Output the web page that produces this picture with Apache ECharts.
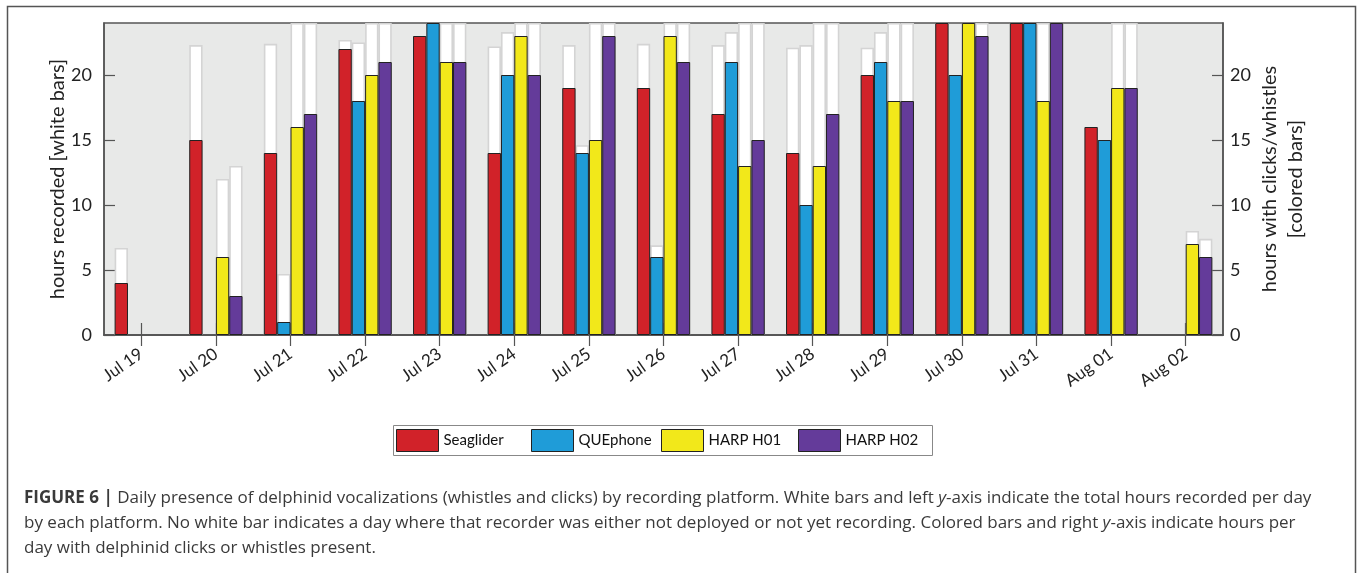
<!DOCTYPE html>
<html>
<head>
<meta charset="utf-8">
<script src="https://cdn.jsdelivr.net/npm/echarts@6/dist/echarts.min.js"></script>
<style>
html,body{margin:0;padding:0;background:#fff;}
#chart{width:1357px;height:573px;}
</style>
</head>
<body>
<div id="chart"></div>
<script>
// ---- data ----
const days = ['Jul 19','Jul 20','Jul 21','Jul 22','Jul 23','Jul 24','Jul 25','Jul 26','Jul 27','Jul 28','Jul 29','Jul 30','Jul 31','Aug 01','Aug 02'];
const platforms = ['Seaglider','QUEphone','HARP H01','HARP H02'];
// total hours recorded per day (white bars, left axis)
const recSeaglider = [6.7, 22.3, 22.4, 22.7, 23, 22.2, 22.3, 22.4, 22.3, 22.1, 22.1, 24, 24, 16, null];
const recQUEphone  = [null, null, 4.7, 22.5, 24, 23.3, 14.6, 6.9, 23.3, 22.3, 23.3, 20, 24, 15, null];
const recHARPH01   = [null, 12, 24, 24, 24, 24, 24, 24, 24, 24, 24, 24, 24, 24, 8];
const recHARPH02   = [null, 13, 24, 24, 24, 24, 24, 24, 24, 24, 24, 24, 24, 24, 7.4];
// hours with clicks/whistles (colored bars, right axis)
const detSeaglider = [4, 15, 14, 22, 23, 14, 19, 19, 17, 14, 20, 24, 24, 16, null];
const detQUEphone  = [null, null, 1, 18, 24, 20, 14, 6, 21, 10, 21, 20, 24, 15, null];
const detHARPH01   = [null, 6, 16, 20, 21, 23, 15, 23, 13, 13, 18, 24, 18, 19, 7];
const detHARPH02   = [null, 3, 17, 21, 21, 20, 23, 21, 15, 17, 18, 23, 24, 19, 6];
const yTicks = [0, 5, 10, 15, 20];

const recorded = [recSeaglider, recQUEphone, recHARPH01, recHARPH02];
const detected = [detSeaglider, detQUEphone, detHARPH01, detHARPH02];
const colors = ['#d12229', '#1f9cd8', '#f2e81a', '#643b9a'];

const chartFont = 'Lato';
const axisCol = '#555';
const BW = 13.33;

const chart = echarts.init(document.getElementById('chart'), null, {renderer: 'canvas'});

const series = [];
platforms.forEach((p, i) => {
  series.push({
    name: 'rec ' + p, type: 'bar', xAxisIndex: 0, yAxisIndex: 0,
    data: recorded[i], barWidth: BW, barGap: '0%', z: 2,
    itemStyle: {color: '#ffffff', borderColor: '#d4d4d4', borderWidth: 1.6},
    emphasis: {disabled: true}, silent: true
  });
});
platforms.forEach((p, i) => {
  series.push({
    name: p, type: 'bar', xAxisIndex: 1, yAxisIndex: 1,
    data: detected[i], barWidth: BW, barGap: '0%', z: 3,
    itemStyle: {color: colors[i], borderColor: '#222', borderWidth: 1},
    emphasis: {disabled: true}
  });
});

const yCommon = {
  type: 'value', min: 0, max: 24, interval: 5,
  splitLine: {show: false},
  axisLine: {show: true, lineStyle: {color: axisCol, width: 1.5}},
  axisTick: {show: true, inside: true, length: 11, lineStyle: {color: axisCol, width: 1.2}, customValues: yTicks},
  axisLabel: {color: '#222', fontFamily: chartFont, fontSize: 18, customValues: yTicks,
              formatter: v => (v % 5 === 0 ? String(v) : '')},
  nameLocation: 'middle',
  nameMoveOverlap: false,
  nameTextStyle: {color: '#222', fontFamily: chartFont, fontSize: 20, lineHeight: 26}
};

// one legend per item so each item sits where the reference puts it
const legendLefts = [396, 531, 661, 798];
const legends = platforms.map((p, i) => ({
  data: [p], left: legendLefts[i], top: 429, padding: 0,
  itemWidth: 42, itemHeight: 22, icon: 'rect', selectedMode: false,
  textStyle: {color: '#111', fontFamily: chartFont, fontSize: 15},
  itemStyle: {borderColor: '#222', borderWidth: 1}
}));

const caption1 = '{b|FIGURE 6 |} Daily presence of delphinid vocalizations (whistles and clicks) by recording platform. White bars and left {i|y}-axis indicate the total hours recorded per day';
const caption2 = 'by each platform. No white bar indicates a day where that recorder was either not deployed or not yet recording. Colored bars and right {i|y}-axis indicate hours per';
const caption3 = 'day with delphinid clicks or whistles present.';
const capFont = 'Open Sans';
const capSize = 17;
const capStyle = (t, y) => ({
  type: 'text', left: 24, top: y, silent: true,
  style: {
    text: t, fill: '#3a3a3a', fontFamily: capFont, fontSize: capSize,
    rich: {
      b: {fontWeight: 'bold', fontFamily: capFont, fontSize: capSize, fill: '#3a3a3a'},
      i: {fontStyle: 'italic', fontFamily: capFont, fontSize: capSize, fill: '#3a3a3a'}
    }
  }
});

chart.setOption({
  animation: false,
  grid: {left: 104, right: 134, top: 23, bottom: 238, show: true,
         backgroundColor: '#e8e9e8', borderColor: axisCol, borderWidth: 1.5},
  legend: legends,
  xAxis: [
    {type: 'category', data: days, position: 'bottom', boundaryGap: true,
     axisLine: {show: true, lineStyle: {color: axisCol, width: 1.5}},
     axisTick: {show: true, inside: true, alignWithLabel: true, length: 12, lineStyle: {color: axisCol, width: 1.2}},
     axisLabel: {rotate: 35, margin: 17, color: '#222', fontFamily: chartFont, fontSize: 17, interval: 0},
     splitLine: {show: false}},
    {type: 'category', data: days, position: 'top', boundaryGap: true,
     axisLine: {show: true, lineStyle: {color: axisCol, width: 1.5}},
     axisTick: {show: true, inside: true, alignWithLabel: true, length: 11, lineStyle: {color: axisCol, width: 1.2}},
     axisLabel: {show: false}, splitLine: {show: false}}
  ],
  yAxis: [
    Object.assign({}, yCommon, {position: 'left', name: 'hours recorded [white bars]', nameGap: 33,
      axisLabel: Object.assign({}, yCommon.axisLabel, {margin: 12})}),
    Object.assign({}, yCommon, {position: 'right', name: 'hours with clicks/whistles\n[colored bars]', nameGap: 34,
      axisLabel: Object.assign({}, yCommon.axisLabel, {margin: 7})})
  ],
  series: series,
  graphic: [
    {type: 'rect', silent: true, shape: {x: 7.5, y: 6.5, width: 1348, height: 600},
     style: {fill: null, stroke: '#555', lineWidth: 1.5}},
    {type: 'rect', silent: true, shape: {x: 393.5, y: 425.5, width: 539, height: 30},
     style: {fill: null, stroke: '#888', lineWidth: 1}},
    capStyle(caption1, 490),
    capStyle(caption2, 515),
    capStyle(caption3, 540)
  ]
});
</script>
</body>
</html>
